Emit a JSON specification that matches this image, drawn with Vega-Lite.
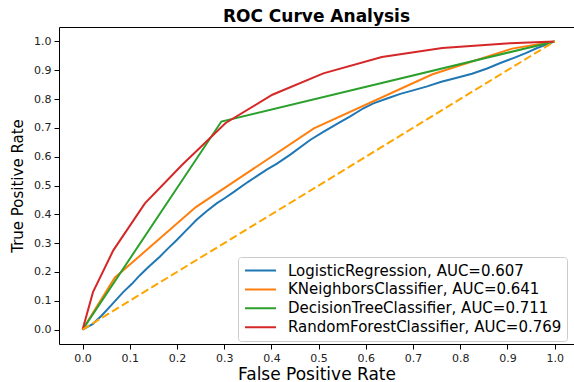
{
  "$schema": "https://vega.github.io/schema/vega-lite/v6.json",
  "width": 515,
  "height": 317,
  "autosize": {"type": "none"},
  "padding": {"left": 59, "top": 27, "right": 0, "bottom": 38},
  "background": "white",
  "config": {
    "font": "DejaVu Sans",
    "view": {"stroke": null},
    "axis": {"grid": false}
  },
  "title": {
    "text": "ROC Curve Analysis",
    "font": "DejaVu Sans",
    "fontSize": 17,
    "fontWeight": "bold",
    "color": "#000",
    "anchor": "middle",
    "frame": "group",
    "baseline": "alphabetic",
    "offset": 5,
    "dy": 17
  },
  "datasets": {
    "roc": [
      {"model": "LogisticRegression, AUC=0.607", "fpr": 0, "tpr": 0},
      {"model": "LogisticRegression, AUC=0.607", "fpr": 0.022, "tpr": 0.02},
      {"model": "LogisticRegression, AUC=0.607", "fpr": 0.04, "tpr": 0.048},
      {"model": "LogisticRegression, AUC=0.607", "fpr": 0.057, "tpr": 0.078},
      {"model": "LogisticRegression, AUC=0.607", "fpr": 0.072, "tpr": 0.105},
      {"model": "LogisticRegression, AUC=0.607", "fpr": 0.086, "tpr": 0.13},
      {"model": "LogisticRegression, AUC=0.607", "fpr": 0.104, "tpr": 0.158},
      {"model": "LogisticRegression, AUC=0.607", "fpr": 0.121, "tpr": 0.188},
      {"model": "LogisticRegression, AUC=0.607", "fpr": 0.14, "tpr": 0.218},
      {"model": "LogisticRegression, AUC=0.607", "fpr": 0.163, "tpr": 0.252},
      {"model": "LogisticRegression, AUC=0.607", "fpr": 0.18, "tpr": 0.28},
      {"model": "LogisticRegression, AUC=0.607", "fpr": 0.199, "tpr": 0.31},
      {"model": "LogisticRegression, AUC=0.607", "fpr": 0.22, "tpr": 0.345},
      {"model": "LogisticRegression, AUC=0.607", "fpr": 0.241, "tpr": 0.38},
      {"model": "LogisticRegression, AUC=0.607", "fpr": 0.262, "tpr": 0.41},
      {"model": "LogisticRegression, AUC=0.607", "fpr": 0.284, "tpr": 0.438},
      {"model": "LogisticRegression, AUC=0.607", "fpr": 0.3, "tpr": 0.455},
      {"model": "LogisticRegression, AUC=0.607", "fpr": 0.319, "tpr": 0.476},
      {"model": "LogisticRegression, AUC=0.607", "fpr": 0.35, "tpr": 0.512},
      {"model": "LogisticRegression, AUC=0.607", "fpr": 0.39, "tpr": 0.555},
      {"model": "LogisticRegression, AUC=0.607", "fpr": 0.411, "tpr": 0.575},
      {"model": "LogisticRegression, AUC=0.607", "fpr": 0.44, "tpr": 0.607},
      {"model": "LogisticRegression, AUC=0.607", "fpr": 0.482, "tpr": 0.658},
      {"model": "LogisticRegression, AUC=0.607", "fpr": 0.51, "tpr": 0.686},
      {"model": "LogisticRegression, AUC=0.607", "fpr": 0.54, "tpr": 0.715},
      {"model": "LogisticRegression, AUC=0.607", "fpr": 0.567, "tpr": 0.74},
      {"model": "LogisticRegression, AUC=0.607", "fpr": 0.595, "tpr": 0.768},
      {"model": "LogisticRegression, AUC=0.607", "fpr": 0.616, "tpr": 0.785},
      {"model": "LogisticRegression, AUC=0.607", "fpr": 0.645, "tpr": 0.802},
      {"model": "LogisticRegression, AUC=0.607", "fpr": 0.673, "tpr": 0.818},
      {"model": "LogisticRegression, AUC=0.607", "fpr": 0.7, "tpr": 0.83},
      {"model": "LogisticRegression, AUC=0.607", "fpr": 0.73, "tpr": 0.844},
      {"model": "LogisticRegression, AUC=0.607", "fpr": 0.76, "tpr": 0.86},
      {"model": "LogisticRegression, AUC=0.607", "fpr": 0.793, "tpr": 0.874},
      {"model": "LogisticRegression, AUC=0.607", "fpr": 0.825, "tpr": 0.888},
      {"model": "LogisticRegression, AUC=0.607", "fpr": 0.857, "tpr": 0.906},
      {"model": "LogisticRegression, AUC=0.607", "fpr": 0.885, "tpr": 0.925},
      {"model": "LogisticRegression, AUC=0.607", "fpr": 0.914, "tpr": 0.943},
      {"model": "LogisticRegression, AUC=0.607", "fpr": 0.94, "tpr": 0.96},
      {"model": "LogisticRegression, AUC=0.607", "fpr": 0.963, "tpr": 0.977},
      {"model": "LogisticRegression, AUC=0.607", "fpr": 1, "tpr": 1},
      {"model": "KNeighborsClassifier, AUC=0.641", "fpr": 0, "tpr": 0},
      {"model": "KNeighborsClassifier, AUC=0.641", "fpr": 0.068, "tpr": 0.18},
      {"model": "KNeighborsClassifier, AUC=0.641", "fpr": 0.24, "tpr": 0.425},
      {"model": "KNeighborsClassifier, AUC=0.641", "fpr": 0.49, "tpr": 0.698},
      {"model": "KNeighborsClassifier, AUC=0.641", "fpr": 0.74, "tpr": 0.885},
      {"model": "KNeighborsClassifier, AUC=0.641", "fpr": 0.91, "tpr": 0.975},
      {"model": "KNeighborsClassifier, AUC=0.641", "fpr": 1, "tpr": 1},
      {"model": "DecisionTreeClassifier, AUC=0.711", "fpr": 0, "tpr": 0},
      {"model": "DecisionTreeClassifier, AUC=0.711", "fpr": 0.294, "tpr": 0.722},
      {"model": "DecisionTreeClassifier, AUC=0.711", "fpr": 1, "tpr": 1},
      {"model": "RandomForestClassifier, AUC=0.769", "fpr": 0, "tpr": 0},
      {"model": "RandomForestClassifier, AUC=0.769", "fpr": 0.022, "tpr": 0.13},
      {"model": "RandomForestClassifier, AUC=0.769", "fpr": 0.065, "tpr": 0.275},
      {"model": "RandomForestClassifier, AUC=0.769", "fpr": 0.132, "tpr": 0.438},
      {"model": "RandomForestClassifier, AUC=0.769", "fpr": 0.21, "tpr": 0.57},
      {"model": "RandomForestClassifier, AUC=0.769", "fpr": 0.303, "tpr": 0.717},
      {"model": "RandomForestClassifier, AUC=0.769", "fpr": 0.402, "tpr": 0.815},
      {"model": "RandomForestClassifier, AUC=0.769", "fpr": 0.51, "tpr": 0.889},
      {"model": "RandomForestClassifier, AUC=0.769", "fpr": 0.634, "tpr": 0.946},
      {"model": "RandomForestClassifier, AUC=0.769", "fpr": 0.762, "tpr": 0.977},
      {"model": "RandomForestClassifier, AUC=0.769", "fpr": 0.905, "tpr": 0.994},
      {"model": "RandomForestClassifier, AUC=0.769", "fpr": 1, "tpr": 1}
    ],
    "diag": [
      {"fpr": 0, "tpr": 0},
      {"fpr": 1, "tpr": 1}
    ]
  },
  "layer": [
    {
      "data": {"name": "roc"},
      "mark": {"type": "line", "strokeWidth": 2},
      "encoding": {
        "x": {
          "field": "fpr",
          "type": "quantitative",
          "scale": {"domain": [-0.05, 1.041], "nice": false, "zero": false},
          "axis": {
            "orient": "bottom",
            "title": "False Positive Rate",
            "titleFontSize": 17,
            "titleFontWeight": "normal",
            "titleColor": "#000",
            "titlePadding": 3,
            "values": [0, 0.1, 0.2, 0.3, 0.4, 0.5, 0.6, 0.7, 0.8, 0.9, 1.0],
            "format": ".1f",
            "labelFontSize": 11,
            "labelColor": "#222",
            "labelPadding": 3,
            "labelOverlap": false,
            "tickSize": 5,
            "tickColor": "#000",
            "tickWidth": 1,
            "domain": true,
            "domainColor": "#000",
            "domainWidth": 1
          }
        },
        "y": {
          "field": "tpr",
          "type": "quantitative",
          "scale": {"domain": [-0.05, 1.05], "nice": false, "zero": false},
          "axis": {
            "title": "True Positive Rate",
            "titleFontSize": 15,
            "titleFontWeight": "normal",
            "titleColor": "#000",
            "titlePadding": 8,
            "values": [0, 0.1, 0.2, 0.3, 0.4, 0.5, 0.6, 0.7, 0.8, 0.9, 1.0],
            "format": ".1f",
            "labelFontSize": 11,
            "labelColor": "#222",
            "labelPadding": 3,
            "labelOverlap": false,
            "tickSize": 5,
            "tickColor": "#000",
            "tickWidth": 1,
            "domain": true,
            "domainColor": "#000",
            "domainWidth": 1
          }
        },
        "color": {
          "field": "model",
          "type": "nominal",
          "scale": {
            "domain": ["LogisticRegression, AUC=0.607", "KNeighborsClassifier, AUC=0.641", "DecisionTreeClassifier, AUC=0.711", "RandomForestClassifier, AUC=0.769"],
            "range": ["#1f77b4", "#ff7f0e", "#2ca02c", "#d62728"]
          },
          "legend": {
            "orient": "none",
            "legendX": 179,
            "legendY": 230,
            "title": null,
            "symbolType": "M-2.07,0H2.07",
            "symbolSize": 225,
            "symbolOffset": 9,
            "symbolStrokeWidth": 2,
            "labelFont": "DejaVu Sans",
            "labelFontSize": 15,
            "labelColor": "#000",
            "labelOffset": 19,
            "labelLimit": 400,
            "rowPadding": 1.9,
            "padding": 5,
            "strokeColor": "#cccccc",
            "fillColor": "rgba(255,255,255,0.8)",
            "cornerRadius": 3
          }
        }
      }
    },
    {
      "data": {"name": "diag"},
      "mark": {"type": "line", "strokeWidth": 2, "color": "orange", "strokeDash": [8, 3.5]},
      "encoding": {
        "x": {
          "field": "fpr",
          "type": "quantitative",
          "axis": {
            "orient": "top",
            "title": null,
            "labels": false,
            "ticks": false,
            "domain": true,
            "domainColor": "#000",
            "domainWidth": 1
          }
        },
        "y": {
          "field": "tpr",
          "type": "quantitative",
          "axis": {
            "title": "True Positive Rate",
            "titleFontSize": 15,
            "titleFontWeight": "normal",
            "titleColor": "#000",
            "titlePadding": 8,
            "values": [0, 0.1, 0.2, 0.3, 0.4, 0.5, 0.6, 0.7, 0.8, 0.9, 1.0],
            "format": ".1f",
            "labelFontSize": 11,
            "labelColor": "#222",
            "labelPadding": 3,
            "labelOverlap": false,
            "tickSize": 5,
            "tickColor": "#000",
            "tickWidth": 1,
            "domain": true,
            "domainColor": "#000",
            "domainWidth": 1
          }
        }
      }
    }
  ],
  "resolve": {"axis": {"x": "independent"}}
}
